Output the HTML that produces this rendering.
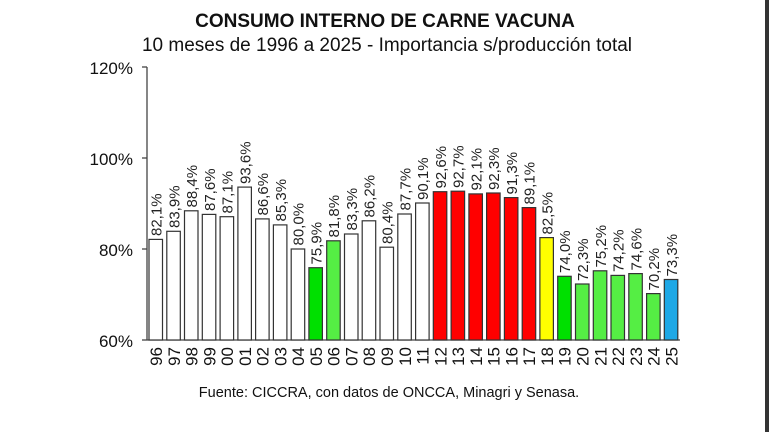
<!DOCTYPE html>
<html><head><meta charset="utf-8"><style>
html,body{margin:0;padding:0;background:#fff;}
svg{display:block;font-family:"Liberation Sans",Arial,sans-serif;}
</style></head><body>
<svg width="769" height="432" viewBox="0 0 769 432" xmlns="http://www.w3.org/2000/svg">
<rect x="0" y="0" width="769" height="432" fill="#fff"/>
<rect x="765" y="0" width="4" height="432" fill="#333"/>
<text x="385" y="27" text-anchor="middle" font-size="19" font-weight="bold" fill="#111">CONSUMO INTERNO DE CARNE VACUNA</text>
<text x="387" y="51" text-anchor="middle" font-size="19" fill="#111">10 meses de 1996 a 2025 - Importancia s/producción total</text>
<g stroke="#444" stroke-width="1.3">
<line x1="147" y1="67" x2="147" y2="340"/>
<line x1="142" y1="67" x2="147" y2="67"/><line x1="142" y1="158" x2="147" y2="158"/>
<line x1="142" y1="249" x2="147" y2="249"/><line x1="142" y1="340" x2="147" y2="340"/>
<line x1="147" y1="340" x2="680" y2="340"/>
</g>
<g font-size="17" fill="#111" text-anchor="end">
<text x="133" y="74">120%</text><text x="133" y="165">100%</text><text x="133" y="256">80%</text><text x="133" y="347">60%</text>
</g>
<g stroke="#333" stroke-width="1.2">
<rect x="149" y="239.4" width="13.5" height="100.6" fill="#fff"/>
<rect x="166.8" y="231.3" width="13.5" height="108.7" fill="#fff"/>
<rect x="184.5" y="210.8" width="13.5" height="129.2" fill="#fff"/>
<rect x="202.3" y="214.4" width="13.5" height="125.6" fill="#fff"/>
<rect x="220.1" y="216.7" width="13.5" height="123.3" fill="#fff"/>
<rect x="237.9" y="187.1" width="13.5" height="152.9" fill="#fff"/>
<rect x="255.6" y="218.9" width="13.5" height="121.1" fill="#fff"/>
<rect x="273.4" y="224.9" width="13.5" height="115.1" fill="#fff"/>
<rect x="291.2" y="249" width="13.5" height="91" fill="#fff"/>
<rect x="308.9" y="267.7" width="13.5" height="72.3" fill="#00e000"/>
<rect x="326.7" y="240.8" width="13.5" height="99.2" fill="#55ee44"/>
<rect x="344.5" y="234.0" width="13.5" height="106" fill="#fff"/>
<rect x="362.2" y="220.8" width="13.5" height="119.2" fill="#fff"/>
<rect x="380.0" y="247.2" width="13.5" height="92.8" fill="#fff"/>
<rect x="397.8" y="214.0" width="13.5" height="126" fill="#fff"/>
<rect x="415.6" y="203.0" width="13.5" height="137" fill="#fff"/>
<rect x="433.3" y="191.7" width="13.5" height="148.3" fill="#ff0000"/>
<rect x="451.1" y="191.2" width="13.5" height="148.8" fill="#ff0000"/>
<rect x="468.9" y="193.9" width="13.5" height="146.1" fill="#ff0000"/>
<rect x="486.6" y="193.0" width="13.5" height="147" fill="#ff0000"/>
<rect x="504.4" y="197.6" width="13.5" height="142.4" fill="#ff0000"/>
<rect x="522.2" y="207.6" width="13.5" height="132.4" fill="#ff0000"/>
<rect x="539.9" y="237.6" width="13.5" height="102.4" fill="#ffff00"/>
<rect x="557.7" y="276.3" width="13.5" height="63.7" fill="#00e000"/>
<rect x="575.5" y="284.0" width="13.5" height="56" fill="#55ee44"/>
<rect x="593.3" y="270.8" width="13.5" height="69.2" fill="#55ee44"/>
<rect x="611.0" y="275.4" width="13.5" height="64.6" fill="#55ee44"/>
<rect x="628.8" y="273.6" width="13.5" height="66.4" fill="#55ee44"/>
<rect x="646.6" y="293.6" width="13.5" height="46.4" fill="#55ee44"/>
<rect x="664.3" y="279.5" width="13.5" height="60.5" fill="#1ea8e6"/>
</g>
<g font-size="15" fill="#222">
<text transform="translate(161.5,236) rotate(-90)">82,1%</text>
<text transform="translate(179.3,228) rotate(-90)">83,9%</text>
<text transform="translate(197,207.5) rotate(-90)">88,4%</text>
<text transform="translate(214.8,211) rotate(-90)">87,6%</text>
<text transform="translate(232.6,213.5) rotate(-90)">87,1%</text>
<text transform="translate(250.4,184) rotate(-90)">93,6%</text>
<text transform="translate(268.1,215.5) rotate(-90)">86,6%</text>
<text transform="translate(285.9,221.5) rotate(-90)">85,3%</text>
<text transform="translate(303.7,245.5) rotate(-90)">80,0%</text>
<text transform="translate(321.4,264.5) rotate(-90)">75,9%</text>
<text transform="translate(339.2,237.5) rotate(-90)">81,8%</text>
<text transform="translate(357,230.5) rotate(-90)">83,3%</text>
<text transform="translate(374.7,217.5) rotate(-90)">86,2%</text>
<text transform="translate(392.5,244) rotate(-90)">80,4%</text>
<text transform="translate(410.3,210.5) rotate(-90)">87,7%</text>
<text transform="translate(428.1,200) rotate(-90)">90,1%</text>
<text transform="translate(445.8,188.5) rotate(-90)">92,6%</text>
<text transform="translate(463.6,188) rotate(-90)">92,7%</text>
<text transform="translate(481.4,190.5) rotate(-90)">92,1%</text>
<text transform="translate(499.1,190) rotate(-90)">92,3%</text>
<text transform="translate(516.9,194.5) rotate(-90)">91,3%</text>
<text transform="translate(534.7,204.5) rotate(-90)">89,1%</text>
<text transform="translate(552.4,234.5) rotate(-90)">82,5%</text>
<text transform="translate(570.2,273) rotate(-90)">74,0%</text>
<text transform="translate(588,281) rotate(-90)">72,3%</text>
<text transform="translate(605.8,267.5) rotate(-90)">75,2%</text>
<text transform="translate(623.5,272) rotate(-90)">74,2%</text>
<text transform="translate(641.3,270.5) rotate(-90)">74,6%</text>
<text transform="translate(659.1,290.5) rotate(-90)">70,2%</text>
<text transform="translate(676.8,276.5) rotate(-90)">73,3%</text>
</g>
<g font-size="17" fill="#111" text-anchor="end">
<text transform="translate(162,347) rotate(-90)">96</text>
<text transform="translate(179.8,347) rotate(-90)">97</text>
<text transform="translate(197.5,347) rotate(-90)">98</text>
<text transform="translate(215.3,347) rotate(-90)">99</text>
<text transform="translate(233.1,347) rotate(-90)">00</text>
<text transform="translate(250.9,347) rotate(-90)">01</text>
<text transform="translate(268.6,347) rotate(-90)">02</text>
<text transform="translate(286.4,347) rotate(-90)">03</text>
<text transform="translate(304.2,347) rotate(-90)">04</text>
<text transform="translate(321.9,347) rotate(-90)">05</text>
<text transform="translate(339.7,347) rotate(-90)">06</text>
<text transform="translate(357.5,347) rotate(-90)">07</text>
<text transform="translate(375.2,347) rotate(-90)">08</text>
<text transform="translate(393,347) rotate(-90)">09</text>
<text transform="translate(410.8,347) rotate(-90)">10</text>
<text transform="translate(428.6,347) rotate(-90)">11</text>
<text transform="translate(446.3,347) rotate(-90)">12</text>
<text transform="translate(464.1,347) rotate(-90)">13</text>
<text transform="translate(481.9,347) rotate(-90)">14</text>
<text transform="translate(499.6,347) rotate(-90)">15</text>
<text transform="translate(517.4,347) rotate(-90)">16</text>
<text transform="translate(535.2,347) rotate(-90)">17</text>
<text transform="translate(552.9,347) rotate(-90)">18</text>
<text transform="translate(570.7,347) rotate(-90)">19</text>
<text transform="translate(588.5,347) rotate(-90)">20</text>
<text transform="translate(606.3,347) rotate(-90)">21</text>
<text transform="translate(624,347) rotate(-90)">22</text>
<text transform="translate(641.8,347) rotate(-90)">23</text>
<text transform="translate(659.6,347) rotate(-90)">24</text>
<text transform="translate(677.3,347) rotate(-90)">25</text>
</g>
<text x="389" y="397" text-anchor="middle" font-size="14.5" fill="#111">Fuente: CICCRA, con datos de ONCCA, Minagri y Senasa.</text>
</svg>
</body></html>
